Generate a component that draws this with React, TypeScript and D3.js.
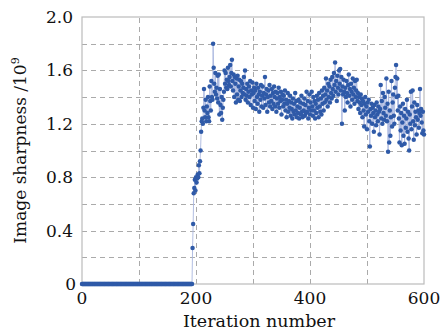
import React, { useRef, useEffect } from 'react';
import * as d3 from 'd3';

// iterations 0..193 sit flat at zero before the optimisation kicks in
const flatIters = 194;
const flatValues: number[] = new Array(flatIters).fill(0);

const startIter = 194;
const sharpness = [
  0.27, 0.45, 0.68, 0.72, 0.78, 0.70, 0.80, 0.76, 0.79, 0.82,
  0.80, 0.89, 0.83, 0.92, 1.00, 1.14, 1.22, 1.24, 1.20, 1.32,
  1.46, 1.30, 1.25, 1.38, 1.22, 1.33, 1.28, 1.40, 1.25, 1.22,
  1.48, 1.37, 1.30, 1.52, 1.40, 1.38, 1.80, 1.62, 1.50, 1.44,
  1.58, 1.42, 1.47, 1.39, 1.56, 1.36, 1.57, 1.27, 1.46, 1.34,
  1.28, 1.40, 1.23, 1.32, 1.38, 1.44, 1.60, 1.50, 1.58, 1.47,
  1.53, 1.46, 1.62, 1.52, 1.49, 1.55, 1.64, 1.48, 1.58, 1.68,
  1.52, 1.45, 1.57, 1.40, 1.55, 1.50, 1.36, 1.54, 1.42, 1.56,
  1.38, 1.48, 1.53, 1.37, 1.45, 1.52, 1.40, 1.50, 1.43, 1.47,
  1.55, 1.42, 1.60, 1.38, 1.46, 1.41, 1.50, 1.36, 1.44, 1.48,
  1.40, 1.52, 1.34, 1.45, 1.42, 1.51, 1.32, 1.43, 1.47, 1.37,
  1.45, 1.31, 1.50, 1.40, 1.35, 1.47, 1.42, 1.29, 1.44, 1.38,
  1.49, 1.33, 1.41, 1.48, 1.32, 1.43, 1.39, 1.55, 1.34, 1.42,
  1.46, 1.29, 1.40, 1.45, 1.36, 1.49, 1.33, 1.41, 1.37, 1.46,
  1.31, 1.43, 1.35, 1.48, 1.40, 1.33, 1.44, 1.29, 1.39, 1.43,
  1.35, 1.47, 1.32, 1.40, 1.37, 1.44, 1.27, 1.38, 1.42, 1.33,
  1.41, 1.35, 1.45, 1.30, 1.38, 1.25, 1.35, 1.43, 1.29, 1.37,
  1.32, 1.41, 1.26, 1.36, 1.31, 1.24, 1.39, 1.29, 1.35, 1.27,
  1.43, 1.30, 1.37, 1.25, 1.33, 1.28, 1.38, 1.24, 1.32, 1.36,
  1.27, 1.41, 1.29, 1.25, 1.35, 1.30, 1.39, 1.26, 1.34, 1.28,
  1.44, 1.29, 1.37, 1.24, 1.32, 1.42, 1.27, 1.36, 1.30, 1.44,
  1.33, 1.26, 1.40, 1.30, 1.37, 1.24, 1.35, 1.28, 1.41, 1.32,
  1.38, 1.25, 1.43, 1.33, 1.29, 1.39, 1.27, 1.45, 1.35, 1.41,
  1.30, 1.47, 1.36, 1.42, 1.54, 1.38, 1.45, 1.33, 1.50, 1.40,
  1.48, 1.36, 1.53, 1.43, 1.39, 1.55, 1.46, 1.41, 1.58, 1.49,
  1.66, 1.44, 1.52, 1.37, 1.56, 1.47, 1.42, 1.60, 1.50, 1.61,
  1.45, 1.55, 1.20, 1.48, 1.42, 1.53, 1.44, 1.30, 1.47, 1.40,
  1.52, 1.43, 1.36, 1.49, 1.57, 1.41, 1.46, 1.33, 1.50, 1.44,
  1.38, 1.54, 1.42, 1.47, 1.35, 1.52, 1.40, 1.45, 1.53, 1.37,
  1.43, 1.31, 1.40, 1.36, 1.28, 1.42, 1.34, 1.39, 1.25, 1.37,
  1.30, 1.18, 1.35, 1.40, 1.27, 1.33, 1.16, 1.36, 1.29, 1.38,
  1.22, 1.03, 1.31, 1.26, 1.35, 1.20, 1.32, 1.28, 1.14, 1.34,
  1.25, 1.30, 1.19, 1.36, 1.27, 1.22, 1.33, 1.29, 1.12, 1.31,
  1.49, 1.24, 1.37, 1.20, 1.43, 1.28, 1.23, 1.40, 1.32, 1.26,
  1.54, 1.22, 1.35, 0.99, 1.44, 1.06, 1.30, 1.11, 1.25, 1.52,
  1.18, 1.36, 1.42, 1.26, 1.20, 1.47, 1.55, 1.64, 1.40, 1.54,
  1.30, 1.41, 1.24, 1.06, 1.33, 1.15, 1.28, 1.04, 1.21, 1.35,
  1.11, 1.26, 1.05, 1.31, 1.17, 1.24, 1.38, 1.14, 1.29, 1.09,
  1.00, 1.27, 1.20, 1.44, 1.16, 1.33, 1.45, 1.22, 1.08, 1.36,
  1.19, 1.29, 1.25, 1.12, 1.34, 1.23, 1.30, 1.17, 1.28, 1.46,
  1.26, 1.31, 1.21, 1.13, 1.29, 1.15, 1.12,
];

const xTicks = [0, 200, 400, 600];
const xGrid = [100, 200, 300, 400, 500];
const yTicks = [0, 0.4, 0.8, 1.2, 1.6, 2.0];
const yGrid = [0.2, 0.4, 0.6, 0.8, 1.0, 1.2, 1.4, 1.6, 1.8];

const App = () => {
  const ref = useRef<SVGSVGElement>(null);

  useEffect(() => {
    const width = 443;
    const height = 331;
    const marginLeft = 82;
    const marginRight = 19;
    const marginTop = 17;
    const marginBottom = 47;
    const font = '"DejaVu Serif", serif';

    const data = [
      ...flatValues.map((v, i) => ({ x: i, y: v })),
      ...sharpness.map((v, i) => ({ x: startIter + i, y: v })),
    ];

    const x = d3.scaleLinear().domain([0, 600]).range([marginLeft, width - marginRight]);
    const y = d3.scaleLinear().domain([0, 2]).range([height - marginBottom, marginTop]);

    const svg = d3.select(ref.current);
    svg.selectAll('*').remove();
    svg.attr('width', width).attr('height', height);

    svg.append('rect').attr('width', width).attr('height', height).attr('fill', '#fff');

    // dashed grid
    const grid = svg.append('g')
      .attr('stroke', '#aaa')
      .attr('stroke-width', 1)
      .attr('stroke-dasharray', '5,4');
    grid.selectAll('.vx').data(xGrid).join('line')
      .attr('x1', d => Math.round(x(d)) + 0.5).attr('x2', d => Math.round(x(d)) + 0.5)
      .attr('y1', y(0)).attr('y2', y(2));
    grid.selectAll('.hy').data(yGrid).join('line')
      .attr('class', 'hy')
      .attr('y1', d => Math.round(y(d)) + 0.5).attr('y2', d => Math.round(y(d)) + 0.5)
      .attr('x1', x(0)).attr('x2', x(600));

    // frame
    svg.append('rect')
      .attr('x', x(0)).attr('y', y(2))
      .attr('width', x(600) - x(0)).attr('height', y(0) - y(2))
      .attr('fill', 'none').attr('stroke', '#bbb').attr('stroke-width', 1.2);

    // connecting line + markers
    svg.append('path')
      .datum(data)
      .attr('fill', 'none')
      .attr('stroke', '#a9b7df')
      .attr('stroke-width', 0.9)
      .attr('d', d3.line<{ x: number; y: number }>().x(d => x(d.x)).y(d => y(d.y)));

    svg.append('g')
      .attr('fill', '#2f5aa8')
      .selectAll('circle')
      .data(data)
      .join('circle')
      .attr('cx', d => x(d.x))
      .attr('cy', d => y(d.y))
      .attr('r', 2.25);

    // tick labels
    svg.append('g').selectAll('text').data(xTicks).join('text')
      .attr('x', d => x(d))
      .attr('y', y(0) + 20)
      .attr('text-anchor', 'middle')
      .attr('font-family', font)
      .attr('font-size', 17)
      .attr('fill', '#111')
      .text(d => String(d));

    svg.append('g').selectAll('text').data(yTicks).join('text')
      .attr('x', d => (d === 0 ? x(0) - 6 : x(0) - 9))
      .attr('y', d => y(d) + 6)
      .attr('text-anchor', 'end')
      .attr('font-family', font)
      .attr('font-size', 17)
      .attr('fill', '#111')
      .text(d => (d === 0 ? '0' : d.toFixed(1)));

    // axis titles
    svg.append('text')
      .attr('x', 259)
      .attr('y', 327)
      .attr('text-anchor', 'middle')
      .attr('font-family', font)
      .attr('font-size', 17.5)
      .attr('fill', '#111')
      .text('Iteration number');

    const yt = svg.append('text')
      .attr('transform', `translate(26,${(y(0) + y(2)) / 2}) rotate(-90)`)
      .attr('text-anchor', 'middle')
      .attr('font-family', font)
      .attr('font-size', 17)
      .attr('fill', '#111');
    yt.append('tspan').text('Image sharpness /10');
    yt.append('tspan').attr('dy', -7).attr('font-size', 11).text('9');
  }, []);

  return <svg ref={ref} style={{ position: 'absolute', left: 0, top: 0 }}></svg>;
};

export default App;
